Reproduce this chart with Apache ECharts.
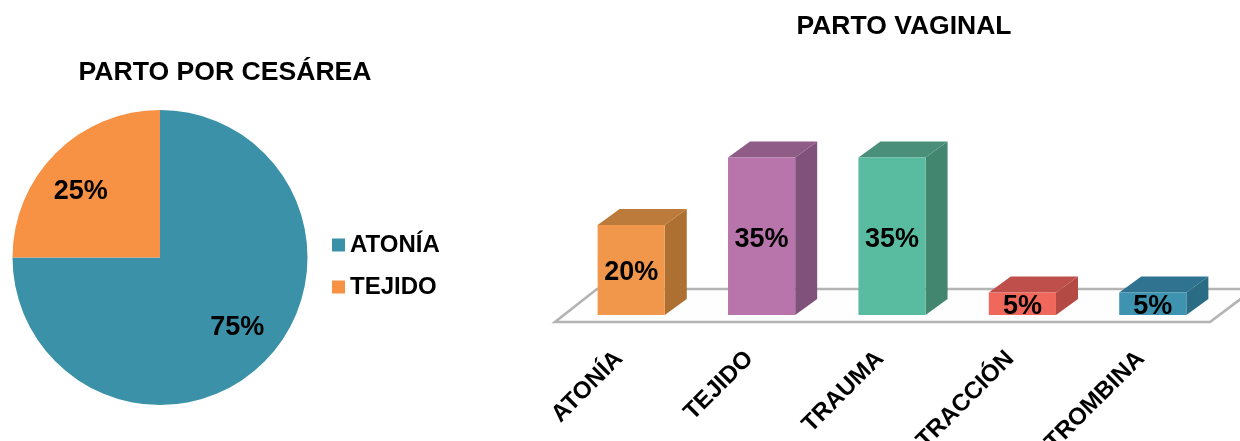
<!DOCTYPE html>
<html><head><meta charset="utf-8">
<style>html,body{margin:0;padding:0;background:#fff}#c{width:1240px;height:441px}</style>
<script src="https://cdn.jsdelivr.net/npm/echarts@6/dist/echarts.min.js"></script>
</head><body><div id="c"></div>
<script>
const pieCategories = ['ATONÍA', 'TEJIDO'];
const pieValues = [75, 25];
const pieColors = ['#3A91A8', '#F79143'];
const barCategories = ['ATONÍA', 'TEJIDO', 'TRAUMA', 'TRACCIÓN', 'TROMBINA'];
const barValues = [20, 35, 35, 5, 5];
const barFront = ['#F0974C', '#B875AB', '#59BCA1', '#F0685C', '#3E93B0'];
const barTop = ['#BC7B3B', '#8F5C88', '#4A8F7A', '#BF4F4A', '#2F7390'];
const barSide = ['#AE6F32', '#80517B', '#43866F', '#B34A43', '#2B6C85'];
const FONT = '"Liberation Sans", Arial, sans-serif';

const chart = echarts.init(document.getElementById('c'), null, {renderer: 'canvas'});

function renderFloor(params, api) {
  const cs = params.coordSys;
  const base = cs.y + cs.height;
  const l = cs.x, r = cs.x + cs.width;
  return {
    type: 'polygon', silent: true,
    shape: {points: [[l - 11, base + 7], [r - 8, base + 7], [r + 36, base - 26], [l + 31, base - 26]]},
    style: {fill: '#FEFEFE', stroke: '#B4B4B4', lineWidth: 2.6}
  };
}

function renderBar(params, api) {
  const i = api.value(0), v = api.value(1);
  const top = api.coord([i, v]);
  const bot = api.coord([i, 0]);
  const w = api.size([1, 0])[0] * 0.515;
  const x0 = top[0] - w / 2, x1 = top[0] + w / 2;
  const dx = 22, dy = 16;
  return {
    type: 'group',
    children: [
      {type: 'polygon', shape: {points: [[x1, top[1]], [x1 + dx, top[1] - dy], [x1 + dx, bot[1] - dy], [x1, bot[1]]]}, style: {fill: barSide[i]}},
      {type: 'polygon', shape: {points: [[x0, top[1]], [x0 + dx, top[1] - dy], [x1 + dx, top[1] - dy], [x1, top[1]]]}, style: {fill: barTop[i]}},
      {type: 'rect', shape: {x: x0, y: top[1], width: w, height: bot[1] - top[1]}, style: {fill: barFront[i]}},
      {type: 'text', style: {text: v + '%', x: top[0], y: (top[1] + bot[1]) / 2 + 3, align: 'center', verticalAlign: 'middle', fill: '#000', font: 'bold 27px ' + FONT}}
    ]
  };
}

chart.setOption({
  animation: false,
  backgroundColor: '#fff',
  title: [
    {text: 'PARTO POR CESÁREA', left: 220, top: 54, textAlign: 'center', textStyle: {fontFamily: FONT, fontWeight: 'bold', fontSize: 26.6, color: '#000'}},
    {text: 'PARTO VAGINAL', left: 899, top: 8, textAlign: 'center', textStyle: {fontFamily: FONT, fontWeight: 'bold', fontSize: 26.5, color: '#000'}}
  ],
  legend: {
    orient: 'vertical', left: 327, top: 228, itemWidth: 13, itemHeight: 13, itemGap: 18, icon: 'rect',
    data: pieCategories,
    textStyle: {fontFamily: FONT, fontWeight: 'bold', fontSize: 24, color: '#000'}
  },
  grid: {left: 566, top: 135, width: 652, height: 180, containLabel: false, outerBoundsMode: 'none'},
  xAxis: {
    type: 'category', data: barCategories,
    axisLine: {show: false}, axisTick: {show: false}, splitLine: {show: false},
    axisLabel: {rotate: 45, margin: 28, padding: [0, 17, 0, 0], interval: 0, hideOverlap: false, fontFamily: FONT, fontWeight: 'bold', fontSize: 24, color: '#000'}
  },
  yAxis: {type: 'value', min: 0, max: 40, show: false},
  series: [
    {
      type: 'pie', center: [160, 257.5], radius: [0, 147.5], startAngle: 90, clockwise: true,
      data: pieCategories.map((n, i) => ({name: n, value: pieValues[i], itemStyle: {color: pieColors[i]}})),
      label: {show: true, position: 'inside', formatter: '{c}%', fontFamily: FONT, fontWeight: 'bold', fontSize: 27, color: '#000'},
      labelLine: {show: false},
      labelLayout: p => (p.dataIndex === 0 ? {dx: 23, dy: 16} : {dx: -25, dy: -12}),
      emphasis: {disabled: true}
    },
    {type: 'custom', coordinateSystem: 'cartesian2d', data: [[0, 0]], renderItem: renderFloor, silent: true, z: 1, clip: false},
    {type: 'custom', coordinateSystem: 'cartesian2d', encode: {x: 0, y: 1}, data: barValues.map((v, i) => [i, v]), renderItem: renderBar, z: 2, clip: false}
  ]
});
</script></body></html>
